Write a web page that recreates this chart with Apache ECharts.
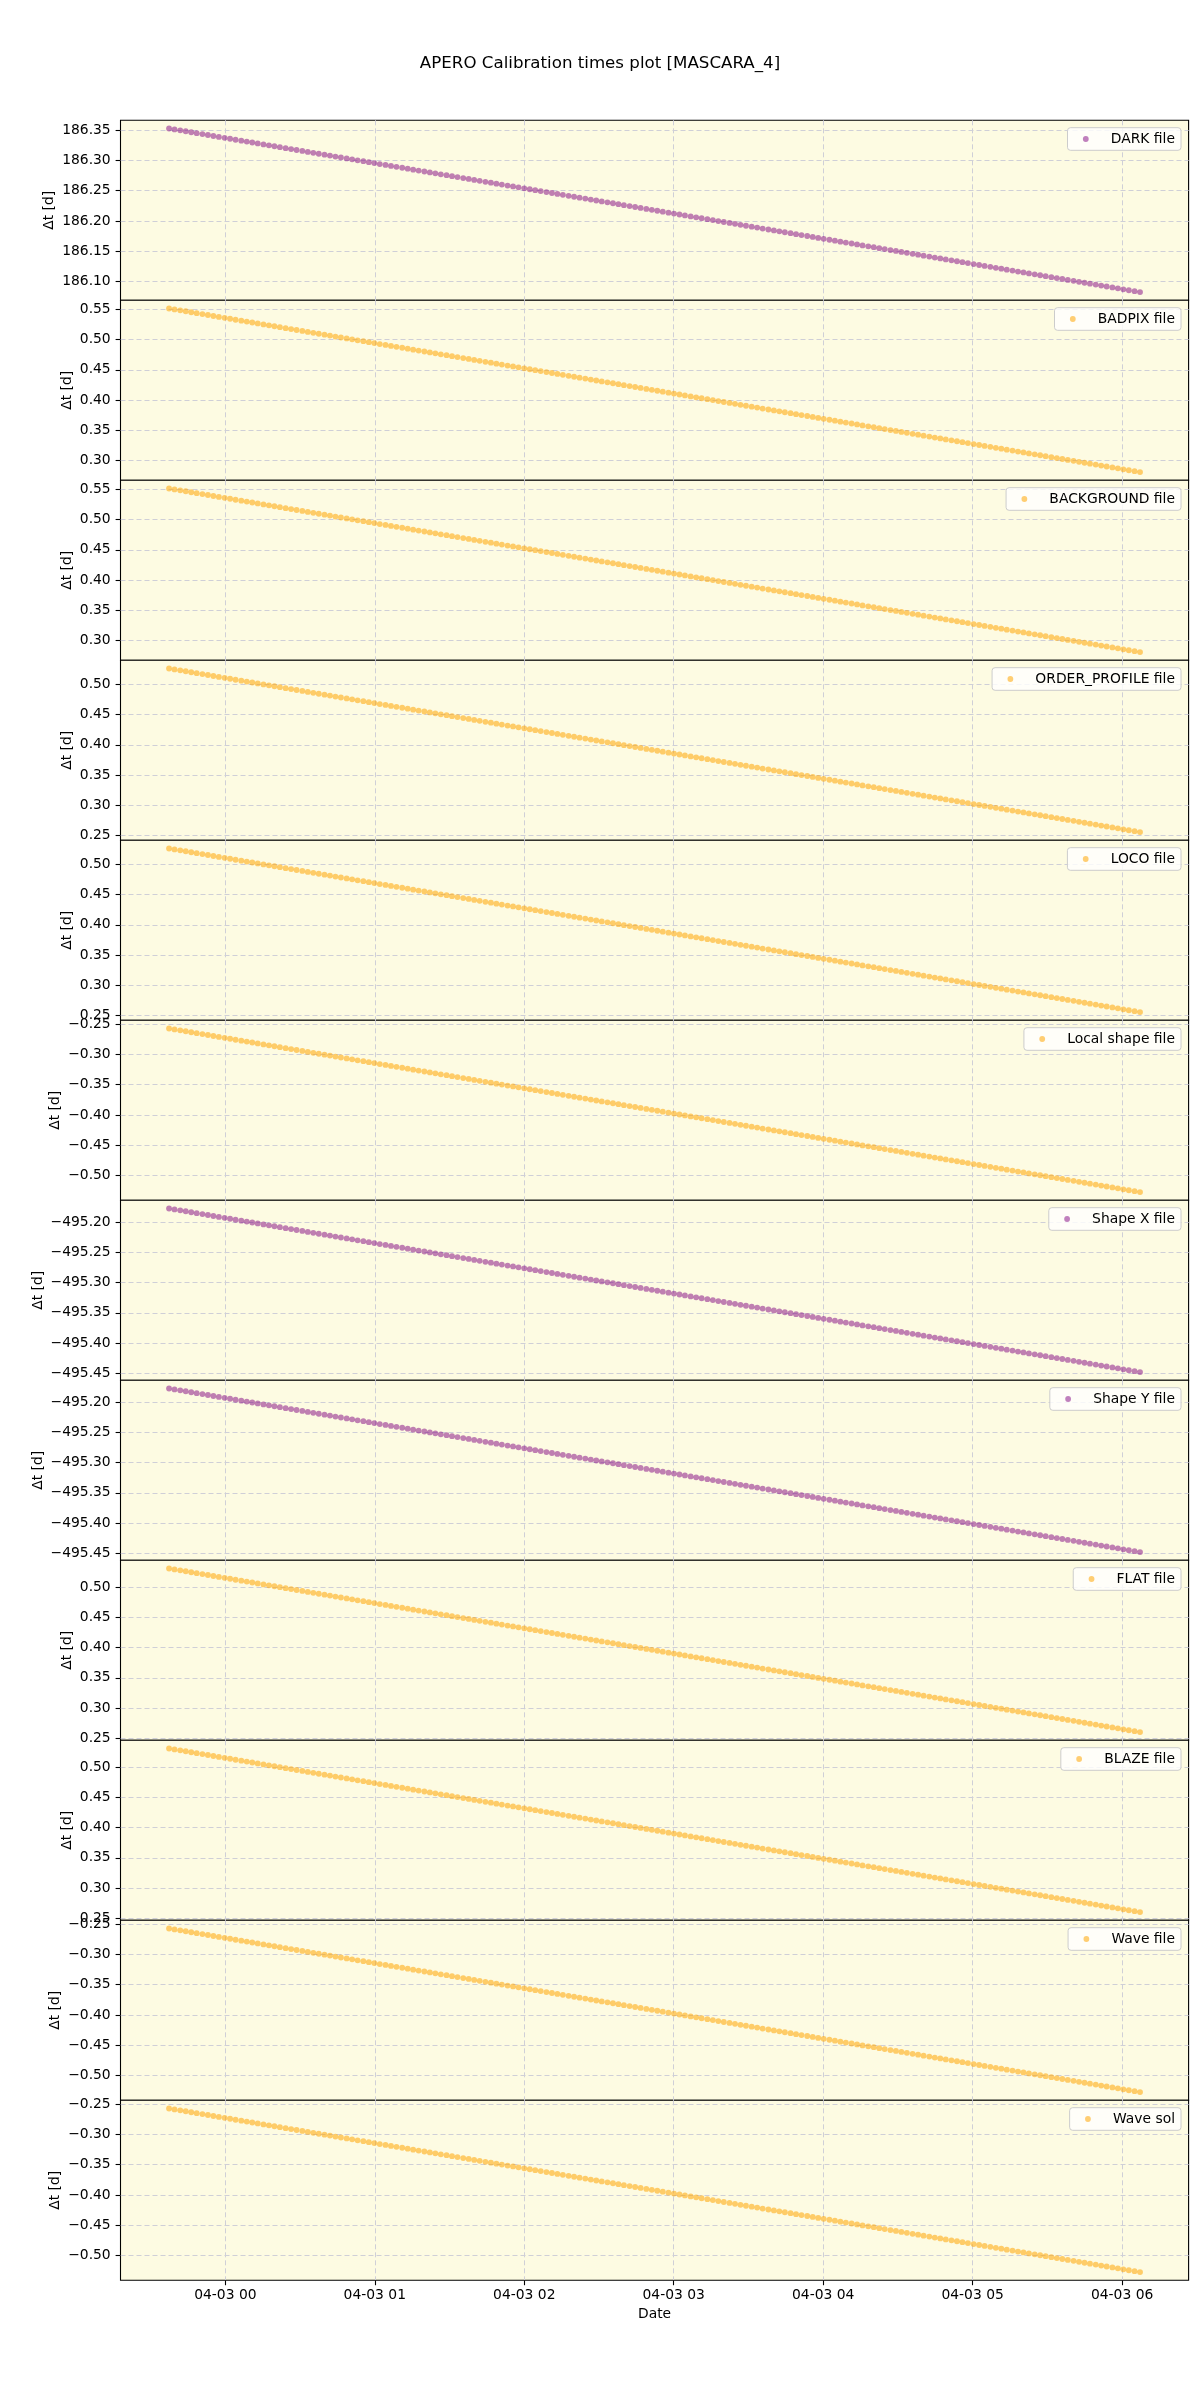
<!DOCTYPE html>
<html><head><meta charset="utf-8">
<script src="https://cdn.jsdelivr.net/npm/echarts@6/dist/echarts.min.js"></script>
<style>html,body{margin:0;padding:0;background:#fff}#c{width:1200px;height:2400px}</style>
</head><body><div id="c"></div>
<script>
// Observation times, minutes relative to 04-03 00:00
const obsMinutes = [
-22.6,-20.4,-18.1,-15.9,-13.7,-11.5,-9.2,-7.0,-4.8,-2.6,
-0.3,1.9,4.1,6.4,8.6,10.8,13.0,15.3,17.5,19.7,
21.9,24.2,26.4,28.6,30.9,33.1,35.3,37.5,39.8,42.0,
44.2,46.4,48.7,50.9,53.1,55.4,57.6,59.8,62.0,64.3,
66.5,68.7,71.0,73.2,75.4,77.6,79.9,82.1,84.3,86.5,
88.8,91.0,93.2,95.5,97.7,99.9,102.1,104.4,106.6,108.8,
111.0,113.3,115.5,117.7,120.0,122.2,124.4,126.6,128.9,131.1,
133.3,135.5,137.8,140.0,142.2,144.5,146.7,148.9,151.1,153.4,
155.6,157.8,160.0,162.3,164.5,166.7,169.0,171.2,173.4,175.6,
177.9,180.1,182.3,184.5,186.8,189.0,191.2,193.5,195.7,197.9,
200.1,202.4,204.6,206.8,209.0,211.3,213.5,215.7,218.0,220.2,
222.4,224.6,226.9,229.1,231.3,233.6,235.8,238.0,240.2,242.5,
244.7,246.9,249.1,251.4,253.6,255.8,258.1,260.3,262.5,264.7,
267.0,269.2,271.4,273.6,275.9,278.1,280.3,282.6,284.8,287.0,
289.2,291.5,293.7,295.9,298.1,300.4,302.6,304.8,307.1,309.3,
311.5,313.7,316.0,318.2,320.4,322.6,324.9,327.1,329.3,331.6,
333.8,336.0,338.2,340.5,342.7,344.9,347.1,349.4,351.6,353.8,
356.1,358.3,360.5,362.7,365.0,367.2];

const darkDt = [
186.3530,186.3515,186.3499,186.3484,186.3468,186.3453,186.3437,186.3422,186.3406,186.3391,
186.3375,186.3360,186.3344,186.3329,186.3313,186.3298,186.3283,186.3267,186.3252,186.3236,
186.3221,186.3205,186.3190,186.3174,186.3159,186.3143,186.3128,186.3112,186.3097,186.3081,
186.3066,186.3050,186.3035,186.3020,186.3004,186.2989,186.2973,186.2958,186.2942,186.2927,
186.2911,186.2896,186.2880,186.2865,186.2849,186.2834,186.2818,186.2803,186.2788,186.2772,
186.2757,186.2741,186.2726,186.2710,186.2695,186.2679,186.2664,186.2648,186.2633,186.2617,
186.2602,186.2586,186.2571,186.2556,186.2540,186.2525,186.2509,186.2494,186.2478,186.2463,
186.2447,186.2432,186.2416,186.2401,186.2385,186.2370,186.2354,186.2339,186.2323,186.2308,
186.2293,186.2277,186.2262,186.2246,186.2231,186.2215,186.2200,186.2184,186.2169,186.2153,
186.2138,186.2122,186.2107,186.2091,186.2076,186.2061,186.2045,186.2030,186.2014,186.1999,
186.1983,186.1968,186.1952,186.1937,186.1921,186.1906,186.1890,186.1875,186.1859,186.1844,
186.1829,186.1813,186.1798,186.1782,186.1767,186.1751,186.1736,186.1720,186.1705,186.1689,
186.1674,186.1658,186.1643,186.1627,186.1612,186.1596,186.1581,186.1566,186.1550,186.1535,
186.1519,186.1504,186.1488,186.1473,186.1457,186.1442,186.1426,186.1411,186.1395,186.1380,
186.1364,186.1349,186.1334,186.1318,186.1303,186.1287,186.1272,186.1256,186.1241,186.1225,
186.1210,186.1194,186.1179,186.1163,186.1148,186.1132,186.1117,186.1102,186.1086,186.1071,
186.1055,186.1040,186.1024,186.1009,186.0993,186.0978,186.0962,186.0947,186.0931,186.0916,
186.0900,186.0885,186.0869,186.0854,186.0839,186.0823];

const badpixDt = [
0.5514,0.5499,0.5483,0.5468,0.5452,0.5437,0.5421,0.5406,0.5390,0.5375,
0.5359,0.5344,0.5328,0.5313,0.5297,0.5282,0.5267,0.5251,0.5236,0.5220,
0.5205,0.5189,0.5174,0.5158,0.5143,0.5127,0.5112,0.5096,0.5081,0.5065,
0.5050,0.5034,0.5019,0.5004,0.4988,0.4973,0.4957,0.4942,0.4926,0.4911,
0.4895,0.4880,0.4864,0.4849,0.4833,0.4818,0.4802,0.4787,0.4772,0.4756,
0.4741,0.4725,0.4710,0.4694,0.4679,0.4663,0.4648,0.4632,0.4617,0.4601,
0.4586,0.4570,0.4555,0.4540,0.4524,0.4509,0.4493,0.4478,0.4462,0.4447,
0.4431,0.4416,0.4400,0.4385,0.4369,0.4354,0.4338,0.4323,0.4307,0.4292,
0.4277,0.4261,0.4246,0.4230,0.4215,0.4199,0.4184,0.4168,0.4153,0.4137,
0.4122,0.4106,0.4091,0.4075,0.4060,0.4045,0.4029,0.4014,0.3998,0.3983,
0.3967,0.3952,0.3936,0.3921,0.3905,0.3890,0.3874,0.3859,0.3843,0.3828,
0.3813,0.3797,0.3782,0.3766,0.3751,0.3735,0.3720,0.3704,0.3689,0.3673,
0.3658,0.3642,0.3627,0.3611,0.3596,0.3580,0.3565,0.3550,0.3534,0.3519,
0.3503,0.3488,0.3472,0.3457,0.3441,0.3426,0.3410,0.3395,0.3379,0.3364,
0.3348,0.3333,0.3318,0.3302,0.3287,0.3271,0.3256,0.3240,0.3225,0.3209,
0.3194,0.3178,0.3163,0.3147,0.3132,0.3116,0.3101,0.3086,0.3070,0.3055,
0.3039,0.3024,0.3008,0.2993,0.2977,0.2962,0.2946,0.2931,0.2915,0.2900,
0.2884,0.2869,0.2853,0.2838,0.2823,0.2807];
const backgroundDt = badpixDt; // identical in the reference

const orderProfileDt = [
0.5263,0.5248,0.5232,0.5217,0.5201,0.5186,0.5170,0.5155,0.5139,0.5124,
0.5108,0.5093,0.5077,0.5062,0.5046,0.5031,0.5016,0.5000,0.4985,0.4969,
0.4954,0.4938,0.4923,0.4907,0.4892,0.4876,0.4861,0.4845,0.4830,0.4814,
0.4799,0.4783,0.4768,0.4753,0.4737,0.4722,0.4706,0.4691,0.4675,0.4660,
0.4644,0.4629,0.4613,0.4598,0.4582,0.4567,0.4551,0.4536,0.4521,0.4505,
0.4490,0.4474,0.4459,0.4443,0.4428,0.4412,0.4397,0.4381,0.4366,0.4350,
0.4335,0.4319,0.4304,0.4289,0.4273,0.4258,0.4242,0.4227,0.4211,0.4196,
0.4180,0.4165,0.4149,0.4134,0.4118,0.4103,0.4087,0.4072,0.4056,0.4041,
0.4026,0.4010,0.3995,0.3979,0.3964,0.3948,0.3933,0.3917,0.3902,0.3886,
0.3871,0.3855,0.3840,0.3824,0.3809,0.3794,0.3778,0.3763,0.3747,0.3732,
0.3716,0.3701,0.3685,0.3670,0.3654,0.3639,0.3623,0.3608,0.3592,0.3577,
0.3562,0.3546,0.3531,0.3515,0.3500,0.3484,0.3469,0.3453,0.3438,0.3422,
0.3407,0.3391,0.3376,0.3360,0.3345,0.3329,0.3314,0.3299,0.3283,0.3268,
0.3252,0.3237,0.3221,0.3206,0.3190,0.3175,0.3159,0.3144,0.3128,0.3113,
0.3097,0.3082,0.3067,0.3051,0.3036,0.3020,0.3005,0.2989,0.2974,0.2958,
0.2943,0.2927,0.2912,0.2896,0.2881,0.2865,0.2850,0.2835,0.2819,0.2804,
0.2788,0.2773,0.2757,0.2742,0.2726,0.2711,0.2695,0.2680,0.2664,0.2649,
0.2633,0.2618,0.2602,0.2587,0.2572,0.2556];
const locoDt = orderProfileDt; // identical in the reference

const flatDt = [
0.5310,0.5295,0.5279,0.5264,0.5248,0.5233,0.5217,0.5202,0.5186,0.5171,
0.5155,0.5140,0.5124,0.5109,0.5093,0.5078,0.5063,0.5047,0.5032,0.5016,
0.5001,0.4985,0.4970,0.4954,0.4939,0.4923,0.4908,0.4892,0.4877,0.4861,
0.4846,0.4830,0.4815,0.4800,0.4784,0.4769,0.4753,0.4738,0.4722,0.4707,
0.4691,0.4676,0.4660,0.4645,0.4629,0.4614,0.4598,0.4583,0.4568,0.4552,
0.4537,0.4521,0.4506,0.4490,0.4475,0.4459,0.4444,0.4428,0.4413,0.4397,
0.4382,0.4366,0.4351,0.4336,0.4320,0.4305,0.4289,0.4274,0.4258,0.4243,
0.4227,0.4212,0.4196,0.4181,0.4165,0.4150,0.4134,0.4119,0.4103,0.4088,
0.4073,0.4057,0.4042,0.4026,0.4011,0.3995,0.3980,0.3964,0.3949,0.3933,
0.3918,0.3902,0.3887,0.3871,0.3856,0.3841,0.3825,0.3810,0.3794,0.3779,
0.3763,0.3748,0.3732,0.3717,0.3701,0.3686,0.3670,0.3655,0.3639,0.3624,
0.3609,0.3593,0.3578,0.3562,0.3547,0.3531,0.3516,0.3500,0.3485,0.3469,
0.3454,0.3438,0.3423,0.3407,0.3392,0.3376,0.3361,0.3346,0.3330,0.3315,
0.3299,0.3284,0.3268,0.3253,0.3237,0.3222,0.3206,0.3191,0.3175,0.3160,
0.3144,0.3129,0.3114,0.3098,0.3083,0.3067,0.3052,0.3036,0.3021,0.3005,
0.2990,0.2974,0.2959,0.2943,0.2928,0.2912,0.2897,0.2882,0.2866,0.2851,
0.2835,0.2820,0.2804,0.2789,0.2773,0.2758,0.2742,0.2727,0.2711,0.2696,
0.2680,0.2665,0.2649,0.2634,0.2619,0.2603];
const blazeDt = flatDt; // identical in the reference

const localShapeDt = [
-0.2570,-0.2585,-0.2601,-0.2616,-0.2632,-0.2647,-0.2663,-0.2678,-0.2694,-0.2709,
-0.2725,-0.2740,-0.2756,-0.2771,-0.2787,-0.2802,-0.2817,-0.2833,-0.2848,-0.2864,
-0.2879,-0.2895,-0.2910,-0.2926,-0.2941,-0.2957,-0.2972,-0.2988,-0.3003,-0.3019,
-0.3034,-0.3050,-0.3065,-0.3080,-0.3096,-0.3111,-0.3127,-0.3142,-0.3158,-0.3173,
-0.3189,-0.3204,-0.3220,-0.3235,-0.3251,-0.3266,-0.3282,-0.3297,-0.3312,-0.3328,
-0.3343,-0.3359,-0.3374,-0.3390,-0.3405,-0.3421,-0.3436,-0.3452,-0.3467,-0.3483,
-0.3498,-0.3514,-0.3529,-0.3544,-0.3560,-0.3575,-0.3591,-0.3606,-0.3622,-0.3637,
-0.3653,-0.3668,-0.3684,-0.3699,-0.3715,-0.3730,-0.3746,-0.3761,-0.3777,-0.3792,
-0.3807,-0.3823,-0.3838,-0.3854,-0.3869,-0.3885,-0.3900,-0.3916,-0.3931,-0.3947,
-0.3962,-0.3978,-0.3993,-0.4009,-0.4024,-0.4039,-0.4055,-0.4070,-0.4086,-0.4101,
-0.4117,-0.4132,-0.4148,-0.4163,-0.4179,-0.4194,-0.4210,-0.4225,-0.4241,-0.4256,
-0.4271,-0.4287,-0.4302,-0.4318,-0.4333,-0.4349,-0.4364,-0.4380,-0.4395,-0.4411,
-0.4426,-0.4442,-0.4457,-0.4473,-0.4488,-0.4504,-0.4519,-0.4534,-0.4550,-0.4565,
-0.4581,-0.4596,-0.4612,-0.4627,-0.4643,-0.4658,-0.4674,-0.4689,-0.4705,-0.4720,
-0.4736,-0.4751,-0.4766,-0.4782,-0.4797,-0.4813,-0.4828,-0.4844,-0.4859,-0.4875,
-0.4890,-0.4906,-0.4921,-0.4937,-0.4952,-0.4968,-0.4983,-0.4998,-0.5014,-0.5029,
-0.5045,-0.5060,-0.5076,-0.5091,-0.5107,-0.5122,-0.5138,-0.5153,-0.5169,-0.5184,
-0.5200,-0.5215,-0.5231,-0.5246,-0.5261,-0.5277];
const waveFileDt = localShapeDt; // identical in the reference
const waveSolDt = localShapeDt;  // identical in the reference

const shapeXDt = [
-495.1774,-495.1789,-495.1805,-495.1820,-495.1836,-495.1851,-495.1867,-495.1882,-495.1898,-495.1913,
-495.1929,-495.1944,-495.1960,-495.1975,-495.1991,-495.2006,-495.2021,-495.2037,-495.2052,-495.2068,
-495.2083,-495.2099,-495.2114,-495.2130,-495.2145,-495.2161,-495.2176,-495.2192,-495.2207,-495.2223,
-495.2238,-495.2254,-495.2269,-495.2284,-495.2300,-495.2315,-495.2331,-495.2346,-495.2362,-495.2377,
-495.2393,-495.2408,-495.2424,-495.2439,-495.2455,-495.2470,-495.2486,-495.2501,-495.2516,-495.2532,
-495.2547,-495.2563,-495.2578,-495.2594,-495.2609,-495.2625,-495.2640,-495.2656,-495.2671,-495.2687,
-495.2702,-495.2718,-495.2733,-495.2748,-495.2764,-495.2779,-495.2795,-495.2810,-495.2826,-495.2841,
-495.2857,-495.2872,-495.2888,-495.2903,-495.2919,-495.2934,-495.2950,-495.2965,-495.2981,-495.2996,
-495.3011,-495.3027,-495.3042,-495.3058,-495.3073,-495.3089,-495.3104,-495.3120,-495.3135,-495.3151,
-495.3166,-495.3182,-495.3197,-495.3213,-495.3228,-495.3243,-495.3259,-495.3274,-495.3290,-495.3305,
-495.3321,-495.3336,-495.3352,-495.3367,-495.3383,-495.3398,-495.3414,-495.3429,-495.3445,-495.3460,
-495.3475,-495.3491,-495.3506,-495.3522,-495.3537,-495.3553,-495.3568,-495.3584,-495.3599,-495.3615,
-495.3630,-495.3646,-495.3661,-495.3677,-495.3692,-495.3708,-495.3723,-495.3738,-495.3754,-495.3769,
-495.3785,-495.3800,-495.3816,-495.3831,-495.3847,-495.3862,-495.3878,-495.3893,-495.3909,-495.3924,
-495.3940,-495.3955,-495.3970,-495.3986,-495.4001,-495.4017,-495.4032,-495.4048,-495.4063,-495.4079,
-495.4094,-495.4110,-495.4125,-495.4141,-495.4156,-495.4172,-495.4187,-495.4202,-495.4218,-495.4233,
-495.4249,-495.4264,-495.4280,-495.4295,-495.4311,-495.4326,-495.4342,-495.4357,-495.4373,-495.4388,
-495.4404,-495.4419,-495.4435,-495.4450,-495.4465,-495.4481];
const shapeYDt = shapeXDt; // identical in the reference

const panelNames = ['DARK file','BADPIX file','BACKGROUND file','ORDER_PROFILE file','LOCO file',
  'Local shape file','Shape X file','Shape Y file','FLAT file','BLAZE file','Wave file','Wave sol'];
const panelValues = [darkDt, badpixDt, backgroundDt, orderProfileDt, locoDt,
  localShapeDt, shapeXDt, shapeYDt, flatDt, blazeDt, waveFileDt, waveSolDt];
const panelColorKeys = ['purple','orange','orange','orange','orange',
  'orange','purple','purple','orange','orange','orange','orange'];
const hourTicks = [0, 60, 120, 180, 240, 300, 360]; // minutes after 04-03 00:00
const dayLabel = '04-03';
const titleText = 'APERO Calibration times plot [MASCARA_4]';

const COLORS = { purple: 'rgba(128,0,128,0.62)', orange: 'rgba(255,165,0,0.68)' };
const FONT = 'DejaVu Sans';
const FS = 13.89;
const GL = 120.5, GR = 1188.6, TOP0 = 120.3, PH = 180;
const BG = '#FDFBE2';
const GRID_COLOR = '#cfcfd7';

const ctx = document.createElement('canvas').getContext('2d');
ctx.font = FS + 'px "' + FONT + '"';
const fmtY = v => v.toFixed(2).replace('-', '\u2212');

const xmin0 = Math.min(...obsMinutes), xmax0 = Math.max(...obsMinutes);
const xr = xmax0 - xmin0;
const xMin = xmin0 - 0.05 * xr, xMax = xmax0 + 0.05 * xr;

const grids = [], xAxes = [], yAxes = [], series = [], legends = [];
const n = panelNames.length;
for (let k = 0; k < n; k++) {
  const vals = panelValues[k];
  const lo = Math.min(...vals), hi = Math.max(...vals), r = hi - lo;
  const yMin = lo - 0.05 * r, yMax = hi + 0.05 * r;
  const ticks = [];
  for (let t = Math.ceil(yMin / 0.05 - 1e-9); t * 0.05 <= yMax + 1e-9; t++) ticks.push(Math.round(t * 5) / 100);
  const maxW = Math.max(...ticks.map(t => ctx.measureText(fmtY(t)).width));
  const top = TOP0 + k * PH;
  const last = k === n - 1;
  grids.push({ left: GL, width: GR - GL, top: top, height: PH, show: true, backgroundColor: BG,
    borderColor: '#000', borderWidth: 1.1, containLabel: false, outerBoundsMode: 'none' });
  xAxes.push({ type: 'value', gridIndex: k, min: xMin, max: xMax, position: 'bottom',
    axisLine: { show: false, onZero: false },
    axisTick: { show: last, length: 4.9, lineStyle: { color: '#000', width: 1.1 }, customValues: hourTicks },
    axisLabel: { show: last, customValues: hourTicks, margin: 8.5, fontFamily: FONT, fontSize: FS, color: '#000',
      formatter: v => dayLabel + ' ' + String(Math.round(v / 60)).padStart(2, '0') },
    splitLine: { show: true, lineStyle: { color: GRID_COLOR, type: [5, 3], width: 1 } },
    name: last ? 'Date' : '', nameLocation: 'middle', nameGap: 27, nameMoveOverlap: false,
    nameTextStyle: { fontFamily: FONT, fontSize: FS, color: '#000' } });
  yAxes.push({ type: 'value', gridIndex: k, min: yMin, max: yMax, scale: true, position: 'left',
    axisLine: { show: false, onZero: false },
    axisTick: { show: true, length: 4.9, lineStyle: { color: '#000', width: 1.1 }, customValues: ticks },
    axisLabel: { customValues: ticks, margin: 9.8, fontFamily: FONT, fontSize: FS, color: '#000', formatter: fmtY,
      showMinLabel: true, showMaxLabel: true, hideOverlap: false },
    splitLine: { show: true, lineStyle: { color: GRID_COLOR, type: [5, 3], width: 1 } },
    name: '\u0394t [d]', nameLocation: 'middle', nameRotate: 90, nameGap: maxW + 9.8 + 5.6, nameMoveOverlap: false,
    nameTextStyle: { fontFamily: FONT, fontSize: FS, color: '#000' } });
  series.push({ type: 'scatter', name: panelNames[k], xAxisIndex: k, yAxisIndex: k,
    symbol: 'circle', symbolSize: 5.8, itemStyle: { color: COLORS[panelColorKeys[k]] },
    emphasis: { disabled: true }, silent: true,
    data: obsMinutes.map((t, i) => [t, vals[i]]) });
  legends.push({ data: [panelNames[k]], right: 19, top: top + 7.4, orient: 'vertical',
    padding: [4.3, 6, 4.3, 15.4], itemWidth: 40, itemHeight: 5.8, icon: 'circle',
    backgroundColor: 'rgba(255,255,255,0.8)', borderColor: '#cccccc', borderWidth: 1, borderRadius: 3,
    selectedMode: false,
    textStyle: { fontFamily: FONT, fontSize: FS, color: '#000' } });
}

const chart = echarts.init(document.getElementById('c'), null, { renderer: 'canvas', width: 1200, height: 2400 });
chart.setOption({
  backgroundColor: '#ffffff',
  animation: false,
  title: { text: titleText, left: 'center', top: 50,
    textStyle: { fontFamily: FONT, fontSize: 16.67, fontWeight: 'normal', color: '#000' } },
  grid: grids, xAxis: xAxes, yAxis: yAxes, series: series, legend: legends
});
</script></body></html>
